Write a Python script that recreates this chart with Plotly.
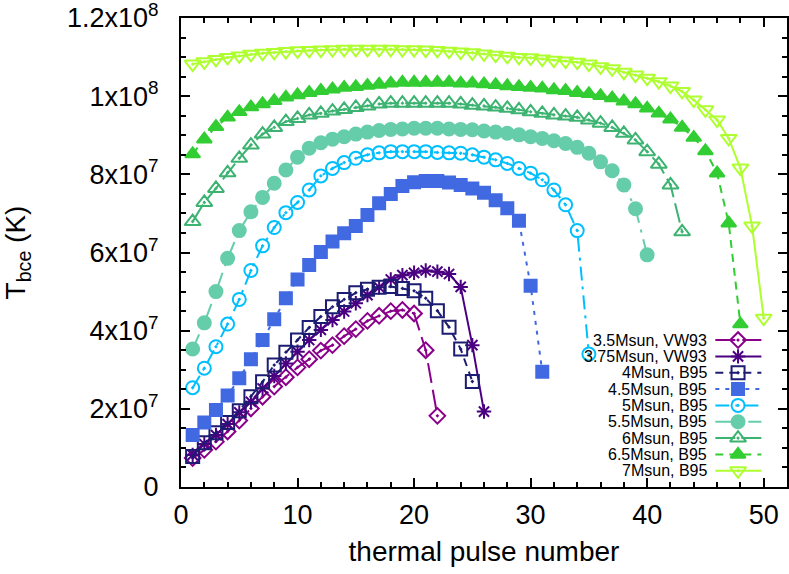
"""Bottom-of-convective-envelope temperature vs thermal pulse number."""
import plotly.graph_objects as go

FONT = "Liberation Sans, Arial, sans-serif"

# ---------------------------------------------------------------------------
# Data (values in units of 1e6 K), pulse number starts at 1
# ---------------------------------------------------------------------------
names = ["3.5Msun, VW93", "3.75Msun, VW93", "4Msun, B95", "4.5Msun, B95",
         "5Msun, B95", "5.5Msun, B95", "6Msun, B95", "6.5Msun, B95",
         "7Msun, B95"]

t_35 = [7.4, 9.5, 11.6, 14.2, 17.0, 20.1, 23.1, 25.7, 28.1, 30.6, 32.7,
        34.9, 36.3, 38.6, 40.4, 42.5, 43.8, 45.0, 45.3, 44.4, 35.0, 18.2]
t_375 = [8.2, 11.0, 13.3, 16.1, 19.1, 21.8, 25.2, 28.4, 31.6, 34.6, 37.6,
         40.2, 42.7, 44.9, 47.0, 49.1, 51.1, 53.1, 54.2, 54.8, 55.4, 55.1,
         54.5, 51.2, 36.3, 19.3]
t_40 = [7.8, 11.3, 13.9, 16.5, 19.5, 23.1, 26.9, 31.2, 34.5, 37.6, 40.8,
        43.6, 46.1, 48.0, 49.7, 50.6, 51.1, 51.3, 50.8, 50.2, 48.3, 45.1,
        40.9, 35.3, 27.0]
t_45 = [13.3, 16.5, 19.7, 23.4, 27.8, 32.7, 37.6, 42.9, 48.3, 53.1, 56.8,
        60.1, 62.8, 64.9, 66.8, 69.6, 72.6, 75.0, 77.0, 78.0, 78.3, 78.3,
        77.9, 77.3, 76.4, 75.3, 73.4, 71.3, 68.1, 51.5, 29.5]
t_50 = [25.4, 30.4, 35.9, 41.7, 48.0, 55.4, 61.7, 66.4, 70.2, 72.8, 76.0,
        79.6, 81.5, 83.0, 84.1, 85.0, 85.5, 85.8, 85.8, 85.8, 85.8, 85.6,
        85.5, 85.4, 85.0, 84.4, 83.7, 82.8, 81.5, 80.3, 78.6, 76.0, 72.2,
        65.6, 34.0]
t_55 = [35.3, 42.0, 50.0, 58.5, 65.6, 70.4, 74.1, 77.7, 81.1, 84.4, 86.7,
        88.1, 89.0, 89.6, 90.3, 90.8, 91.2, 91.5, 91.6, 91.8, 91.8, 91.8,
        91.6, 91.5, 91.4, 91.1, 90.8, 90.5, 90.1, 89.6, 89.2, 88.6, 87.9,
        86.9, 85.4, 83.2, 80.9, 77.3, 71.2, 59.4]
t_60 = [67.9, 72.8, 76.4, 80.4, 84.1, 87.5, 90.3, 92.0, 93.5, 94.3, 95.2,
        95.6, 96.2, 96.6, 97.1, 97.5, 98.0, 98.2, 98.2, 98.2, 98.2, 98.2,
        98.2, 98.0, 97.7, 97.5, 97.2, 96.9, 96.5, 96.0, 95.6, 95.2, 94.9,
        94.6, 93.9, 93.1, 92.0, 90.5, 88.8, 85.8, 82.6, 77.3, 65.3]
t_65 = [85.2, 89.0, 92.2, 94.6, 96.0, 97.2, 98.0, 98.8, 99.7, 100.3, 100.9,
        101.4, 101.8, 102.2, 102.4, 102.7, 103.0, 103.3, 103.5, 103.5, 103.5,
        103.5, 103.5, 103.3, 103.3, 103.1, 102.9, 102.6, 102.4, 102.2, 102.0,
        101.6, 101.4, 100.9, 100.6, 100.1, 99.5, 98.7, 98.0, 96.9, 95.6,
        94.1, 92.0, 89.4, 86.0, 80.3, 67.5, 41.7]
t_70 = [108.2, 108.8, 109.4, 109.9, 110.3, 110.7, 111.0, 111.2, 111.4, 111.6,
        111.7, 111.8, 111.9, 112.0, 112.0, 112.0, 112.0, 112.0, 111.9, 111.9,
        111.8, 111.7, 111.5, 111.3, 111.1, 110.8, 110.5, 110.2, 109.9, 109.8,
        109.5, 109.2, 109.0, 108.7, 108.2, 107.5, 107.0, 106.1, 105.4, 104.6,
        103.7, 102.6, 101.2, 99.0, 96.5, 93.9, 89.2, 81.6, 66.8, 43.2]

series = [t_35, t_375, t_40, t_45, t_50, t_55, t_60, t_65, t_70]

x_ticks = [0, 10, 20, 30, 40, 50]
y_ticks = [0, 2e7, 4e7, 6e7, 8e7, 1e8, 1.2e8]
y_labels = ["0", "2x10<sup>7</sup>", "4x10<sup>7</sup>", "6x10<sup>7</sup>",
            "8x10<sup>7</sup>", "1x10<sup>8</sup>", "1.2x10<sup>8</sup>"]

# ---------------------------------------------------------------------------
# Styles (gnuplot-like)
# ---------------------------------------------------------------------------
STYLES = [
    dict(color="#8b008b", dash="20px,7px", symbol="diamond-open-dot", size=12),
    dict(color="#4b0082", dash="solid", symbol="asterisk-open", size=12),
    dict(color="#1c1c72", dash="8px,6px", symbol="square-open-dot", size=13),
    dict(color="#4169e1", dash="4px,6px", symbol="square", size=12),
    dict(color="#00bfff", dash="14px,6px,3px,6px", symbol="circle-open-dot", size=13),
    dict(color="#66cdaa", dash="16px,7px,3px,7px", symbol="circle", size=13),
    dict(color="#3cb371", dash="20px,6px", symbol="triangle-up-open-dot", size=14),
    dict(color="#32cd32", dash="8px,6px", symbol="triangle-up", size=13),
    dict(color="#adff2f", dash="solid", symbol="triangle-down-open-dot", size=14),
]

# legend block placement, in data units of the main axes
LEG_TEXT_X = 45.2
LEG_LINE_X = (45.85, 49.8)
LEG_MARK_X = 47.8
LEG_TOP_Y = 37.6e6
LEG_STEP_Y = 4.18e6


def _marker(st):
    return dict(symbol=st["symbol"], size=st["size"], color=st["color"],
                line=dict(color=st["color"], width=2))


def build_figure():
    fig = go.Figure()
    for name, vals, st in zip(names, series, STYLES):
        xs = list(range(1, len(vals) + 1))
        fig.add_trace(go.Scatter(
            x=xs, y=[v * 1e6 for v in vals], name=name, mode="lines+markers",
            line=dict(color=st["color"], width=2, dash=st["dash"]),
            marker=_marker(st), showlegend=False,
        ))

    # gnuplot style key: text on the left, sample on the right
    for i, (name, st) in enumerate(zip(names, STYLES)):
        yy = LEG_TOP_Y - i * LEG_STEP_Y
        fig.add_trace(go.Scatter(
            x=list(LEG_LINE_X), y=[yy, yy], mode="lines", showlegend=False,
            line=dict(color=st["color"], width=2, dash=st["dash"]),
            hoverinfo="skip",
        ))
        fig.add_trace(go.Scatter(
            x=[LEG_MARK_X], y=[yy], mode="markers", showlegend=False,
            marker=_marker(st), hoverinfo="skip",
        ))
        fig.add_annotation(
            x=LEG_TEXT_X, y=yy, text=name, showarrow=False,
            xanchor="right", yanchor="middle", borderpad=0,
            font=dict(family=FONT, size=16, color="black"),
        )

    axis = dict(
        showline=True, linecolor="black", linewidth=2, mirror="ticks",
        ticks="inside", ticklen=9, tickwidth=1.5, tickcolor="black",
        showgrid=False, zeroline=False, automargin=False,
        ticklabeloverflow="allow",
        tickfont=dict(family=FONT, size=27, color="black"),
    )
    fig.update_xaxes(
        **axis, range=[0, 52], tickvals=x_ticks,
        minor=dict(dtick=2, ticks="inside", ticklen=5, tickcolor="black"),
        ticklabelstandoff=3,
        title=dict(text="thermal pulse number", standoff=12,
                   font=dict(family=FONT, size=28, color="black")),
    )
    fig.update_yaxes(
        **axis, range=[0, 1.2e8], tickvals=y_ticks, ticktext=y_labels,
        minor=dict(dtick=5e6, ticks="inside", ticklen=5, tickcolor="black"),
        ticklabelstandoff=15,
        title=dict(text="T<sub>bce</sub> (K)", standoff=34,
                   font=dict(family=FONT, size=28, color="black")),
    )
    fig.update_layout(
        width=789, height=574,
        margin=dict(l=181, r=2, t=18, b=87),
        paper_bgcolor="white", plot_bgcolor="white",
        font=dict(family=FONT, color="black"),
    )
    return fig


fig = build_figure()
# the page would otherwise add an 8px body margin around the figure
fig.write_html("out.html", config={"displayModeBar": False},
               post_script="document.body.style.margin='0';")
